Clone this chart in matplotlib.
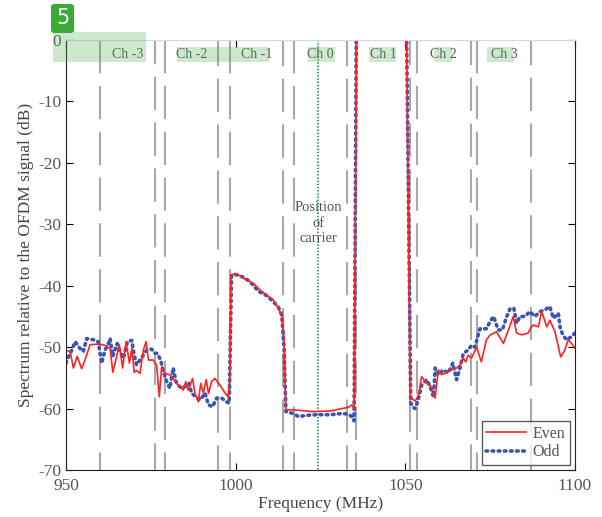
import matplotlib
matplotlib.use("Agg")
import matplotlib.pyplot as plt
from matplotlib.patches import Rectangle, FancyBboxPatch
from matplotlib.lines import Line2D

plt.rcParams['font.family'] = ['Liberation Serif', 'DejaVu Serif']
plt.rcParams['lines.scale_dashes'] = False
plt.rcParams['axes.unicode_minus'] = False

# measured spectrum, even channel
even_freq = [950, 951.2, 952.2, 953.3, 954.6, 955.6, 957.1, 959.5, 961.5, 963.0,
             963.8, 964.7, 965.7, 966.7, 967.7, 968.7, 969.4, 970.1, 970.8, 971.8,
             972.8, 973.6, 974.3, 975.7, 976.7, 977.5, 978.2, 979.2, 980.6, 981.6,
             982.6, 983.6, 984.6, 985.3, 986.0, 987.3, 988.0, 989.0, 989.7, 990.5,
             991.3, 992.0, 992.9, 993.9, 995.4, 996.9, 997.8, 998.3, 998.6, 999.8,
             1001.3, 1003.2, 1005.2, 1007.2, 1009.1, 1011.1, 1012.6, 1013.6, 1014.2, 1014.8,
             1016.5, 1018.9, 1022.9, 1027.8, 1031.3, 1033.2, 1034.2, 1034.9, 1035.7, 1050.3,
             1051.4, 1052.9, 1053.9, 1054.8, 1056.3, 1057.3, 1058.3, 1058.8, 1059.7, 1060.7,
             1062.2, 1063.6, 1065.1, 1066.1, 1067.1, 1067.8, 1068.5, 1069.5, 1071.0, 1072.4,
             1073.9, 1075.0, 1076.9, 1078.9, 1080.4, 1081.8, 1082.8, 1084.3, 1086.2, 1087.2,
             1087.7, 1089.2, 1090.2, 1091.7, 1092.6, 1094.1, 1095.8, 1097.0, 1098.0, 1099.0,
             1100]
even_db = [-50.5, -50.7, -53.4, -51.5, -53.5, -52.1, -49.6, -49.5, -49.7, -50.2,
           -54.1, -52.1, -49.6, -53.4, -49.1, -52.6, -50.2, -54.1, -53.8, -54.3,
           -50.5, -49.1, -52.1, -52.1, -52.9, -58.1, -53.2, -54.3, -54.5, -55.1,
           -55.9, -56.5, -57.0, -55.6, -57.0, -55.1, -57.5, -58.9, -55.9, -57.5,
           -55.3, -57.5, -55.6, -55.1, -56.2, -57.5, -58.1, -54.8, -38.3, -38.0,
           -38.4, -39.1, -39.6, -40.7, -41.5, -42.3, -43.7, -45.0, -47.8, -60.2,
           -60.2, -60.3, -60.5, -60.4, -60.0, -59.8, -59.4, -59.9, 5.0, 5.0,
           -58.1, -58.8, -57.8, -54.8, -55.9, -56.2, -57.3, -58.3, -53.7, -54.5,
           -54.1, -53.7, -53.4, -52.9, -51.8, -52.4, -51.3, -51.8, -50.0, -52.4,
           -48.8, -48.0, -47.5, -49.4, -47.2, -45.0, -47.7, -48.0, -47.7, -46.7,
           -46.4, -46.7, -44.2, -46.7, -45.6, -47.5, -51.6, -50.5, -48.8, -49.4,
           -50.2]

# measured spectrum, odd channel
odd_freq = [950, 950.8, 951.7, 952.7, 954.1, 955.1, 956.1, 958.1, 959.5, 960.5,
            961.5, 962.5, 963.0, 963.8, 964.4, 965.1, 965.9, 966.9, 968.1, 969.4,
            970.0, 970.8, 971.8, 972.8, 973.8, 975.2, 976.2, 976.9, 977.9, 978.7,
            979.7, 980.6, 981.6, 982.4, 983.1, 984.1, 985.1, 986.3, 987.0, 988.3,
            989.5, 991.0, 992.0, 993.2, 994.4, 995.9, 997.3, 998.1, 998.8, 1000.3,
            1002.2, 1004.2, 1006.7, 1009.1, 1011.1, 1012.6, 1013.6, 1014.3, 1014.8, 1017.0,
            1018.5, 1021.0, 1024.0, 1027.8, 1031.3, 1033.2, 1034.2, 1034.9, 1035.6, 1050.3,
            1051.6, 1052.3, 1052.9, 1053.8, 1054.8, 1056.3, 1057.3, 1058.3, 1058.8, 1059.7,
            1061.2, 1062.7, 1064.0, 1065.1, 1066.1, 1067.1, 1068.5, 1069.5, 1070.5, 1072.0,
            1073.9, 1074.9, 1076.0, 1077.4, 1078.6, 1079.9, 1080.9, 1082.0, 1082.8, 1083.8,
            1085.3, 1086.7, 1088.2, 1089.7, 1091.2, 1092.6, 1093.6, 1095.1, 1095.6, 1096.4,
            1097.5, 1099.0, 1100]
odd_db = [-52.6, -51.5, -50.5, -49.1, -50.2, -50.7, -48.6, -48.8, -49.1, -52.6,
          -50.5, -49.4, -48.6, -51.5, -50.5, -49.4, -50.7, -51.8, -49.1, -48.9,
          -51.0, -52.9, -52.1, -51.3, -50.5, -50.3, -51.0, -51.0, -52.1, -54.0,
          -55.6, -56.7, -53.4, -55.6, -56.2, -56.7, -56.4, -55.9, -57.5, -58.1,
          -58.6, -57.5, -59.4, -59.7, -58.3, -58.3, -58.9, -59.1, -38.3, -38.2,
          -38.6, -39.3, -40.9, -41.6, -42.6, -43.5, -44.8, -50.5, -60.5, -60.8,
          -61.3, -61.1, -61.0, -61.0, -60.8, -60.9, -61.3, -62.0, 5.0, 5.0,
          -59.1, -59.8, -60.0, -58.6, -56.2, -55.3, -56.4, -58.1, -53.4, -54.5,
          -53.7, -54.2, -52.6, -55.3, -53.4, -51.0, -50.5, -49.7, -50.0, -47.0,
          -47.0, -45.9, -45.0, -47.2, -47.2, -45.0, -43.7, -43.7, -46.1, -45.0,
          -45.0, -44.2, -45.0, -44.2, -43.9, -43.4, -45.3, -44.5, -46.7, -48.0,
          -48.8, -48.3, -47.7]

ch_names = ['Ch -3', 'Ch -2', 'Ch -1', 'Ch 0', 'Ch 1', 'Ch 2', 'Ch 3']
ch_left = [959.9, 979.1, 998.2, 1017.1, 1035.5, 1053.4, 1071.2]
ch_right = [976.3, 994.9, 1014.1, 1032.9, 1051.3, 1069.3, 1087.0]
carrier = 1024.4

fig = plt.figure(figsize=(6.02, 5.17), dpi=100)
ax = fig.add_axes([0.1096, 0.0909, 0.8455, 0.8317])

dash = (0, (24, 9))
for l, r in zip(ch_left, ch_right):
    ax.plot([l, l], [0, -70], color='#a8a8a8', lw=1.5, linestyle=dash)
    ax.plot([l, r, r], [0, 0, -70], color='#a8a8a8', lw=1.5, linestyle=dash)
    ax.text((l + r) / 2, -2.4, ch_names[ch_left.index(l)], ha='center', va='center',
            fontsize=10, color='#555555')

ax.plot([carrier, carrier], [0, -70], color='#2e9e5a', lw=1.4, linestyle=(0, (1, 1.3)))
ax.text(carrier, -29.8, 'Position\nof\ncarrier', ha='center', va='center',
        fontsize=10.5, color='#555555', linespacing=1.25)

ax.plot(odd_freq, odd_db, color='#3a55b0', lw=2.6, linestyle=(0, (1.2, 3.2)),
        dash_capstyle='round')
ax.plot(even_freq, even_db, color='#ff2222', lw=1.2)

ax.set_xlim(950, 1100)
ax.set_ylim(-70, 0)
ax.set_xticks([950, 1000, 1050, 1100])
ax.set_yticks([0, -10, -20, -30, -40, -50, -60, -70])
ax.tick_params(direction='in', top=True, right=True, labelsize=12.5,
               labelcolor='#555555', length=5)
ax.tick_params(axis='x', pad=6)
for s in ['left', 'bottom', 'right']:
    ax.spines[s].set_color('#222222')
ax.spines['top'].set_color('#d8d8d8')
ax.set_xlabel('Frequency (MHz)', fontsize=12.5, color='#444444', labelpad=1)
ax.set_ylabel('Spectrum relative to the OFDM signal (dB)', fontsize=12.5,
              color='#444444', labelpad=3)

handles = [Line2D([], [], color='#ff2222', lw=1.2),
           Line2D([], [], color='#3a55b0', lw=2.6, linestyle=(0, (1.2, 3.2)),
                  dash_capstyle='round')]
leg = ax.legend(handles, ['Even', 'Odd'], loc='lower right', fontsize=11.5,
                frameon=True, fancybox=False, edgecolor='#333333',
                borderaxespad=0.3, handlelength=2.5, labelspacing=0.15,
                borderpad=0.3, handletextpad=0.4)
leg.get_frame().set_linewidth(1.0)
for t in leg.get_texts():
    t.set_color('#555555')

# green highlight overlay
W, H = 602, 517
boxes = [(53, 32, 146, 62), (177, 47, 269, 62), (308, 47, 335, 62),
         (369, 47, 396, 62), (434, 47, 452, 62), (487, 47, 514, 62)]
for x0, y0, x1, y1 in boxes:
    fig.patches.append(Rectangle((x0 / W, 1 - y1 / H), (x1 - x0) / W, (y1 - y0) / H,
                                 transform=fig.transFigure, facecolor='#4caf50',
                                 alpha=0.28, edgecolor='none', zorder=5))
fig.patches.append(FancyBboxPatch((51 / W, 1 - 33 / H), 23 / W, 29 / H,
                                  boxstyle='round,pad=0,rounding_size=0.006',
                                  transform=fig.transFigure, facecolor='#3aaa35',
                                  edgecolor='none', zorder=6))
fig.text(62.5 / W, 1 - 18.5 / H, '5', ha='center', va='center', color='white',
         fontsize=15, family='DejaVu Sans', zorder=7)

fig.savefig('out.png', dpi=100)
